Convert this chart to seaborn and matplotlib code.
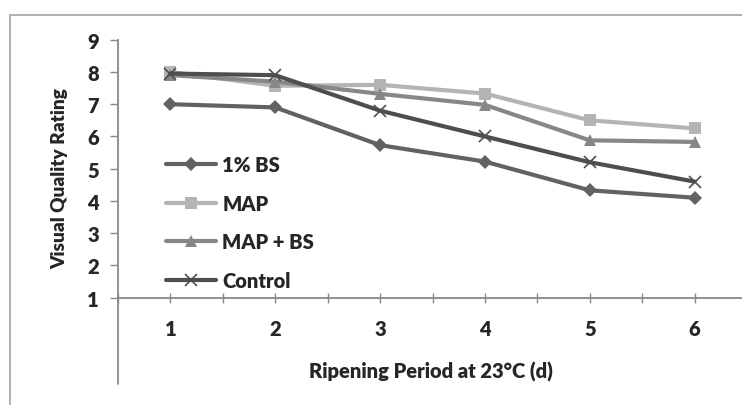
import matplotlib
matplotlib.use("Agg")
import matplotlib.pyplot as plt
import seaborn as sns
import pandas as pd
from matplotlib.lines import Line2D

days = [1, 2, 3, 4, 5, 6]
bs1 = [7.0, 6.9, 5.73, 5.22, 4.33, 4.1]
map_ = [8.0, 7.57, 7.6, 7.33, 6.5, 6.25]
map_bs = [7.9, 7.7, 7.32, 6.98, 5.88, 5.83]
control = [7.95, 7.9, 6.8, 6.0, 5.2, 4.6]
series_names = ["1% BS", "MAP", "MAP + BS", "Control"]
y_ticks = [1, 2, 3, 4, 5, 6, 7, 8, 9]

colors = {"1% BS": "#626262", "MAP": "#b4b4b4", "MAP + BS": "#878787", "Control": "#4e4e4e"}
markers = {"1% BS": "D", "MAP": "s", "MAP + BS": "^", "Control": "x"}
msizes = {"1% BS": 7.5, "MAP": 8, "MAP + BS": 9, "Control": 9}

df = pd.DataFrame({
    "day": days * 4,
    "rating": bs1 + map_ + map_bs + control,
    "series": sum([[n] * len(days) for n in series_names], []),
})

sns.set_style("white")
plt.rcParams["font.family"] = ["Lato", "DejaVu Sans"]
FW = "heavy"
FS = 14.5

fig = plt.figure(figsize=(7.42, 4.06), dpi=100)
ax = fig.add_axes([118 / 742, 1 - 298.7 / 406, 629 / 742, 258 / 406])

for name in series_names:
    sub = df[df["series"] == name]
    sns.lineplot(data=sub, x="day", y="rating", ax=ax, color=colors[name],
                 marker=markers[name], markersize=msizes[name], linewidth=3,
                 markeredgewidth=1.2 if name == "Control" else 0,
                 markeredgecolor=colors[name], legend=False)

ax.set_xlim(0.5, 6.5)
ax.set_ylim(1, 9)
ax.set_yticks(y_ticks)
ax.set_xticks(days)
ax.set_xticks([d + 0.5 for d in [0] + days[:-1]], minor=True)
ax.set_xlabel("")
ax.set_ylabel("")
for s in ["top", "right"]:
    ax.spines[s].set_visible(False)
for s in ["left", "bottom"]:
    ax.spines[s].set_color("#888888")
    ax.spines[s].set_linewidth(1.3)
ax.tick_params(axis="y", direction="out", length=5.8, width=1, color="#888888",
               pad=8, labelsize=FS, left=True)
ax.tick_params(axis="x", which="both", direction="inout", length=7, width=1,
               color="#888888", bottom=True)
ax.tick_params(axis="x", which="major", pad=12, labelsize=FS)
for lab in ax.get_xticklabels() + ax.get_yticklabels():
    lab.set_fontweight(FW)

# y-axis line continuing below the x axis
ax.plot([0, 0], [0, -0.334], transform=ax.transAxes, color="#888888",
        linewidth=1.3, clip_on=False)

# outer chart border (top and left)
fig.add_artist(Line2D([10 / 742, 1.0], [1 - 15.7 / 406] * 2, color="#b0b0b0", linewidth=1.4))
fig.add_artist(Line2D([9.5 / 742] * 2, [0, 1 - 15.7 / 406], color="#b0b0b0", linewidth=1.4))

fig.text(431 / 742, 1 - 372 / 406, "Ripening Period at 23°C (d)", ha="center", va="center",
         fontsize=FS, fontweight=FW)
fig.text(60 / 742, 1 - 179 / 406, "Visual Quality Rating", ha="center", va="center",
         rotation=90, fontsize=13.7, fontweight=FW)

handles = [Line2D([], [], color=colors[n], marker=markers[n], markersize=msizes[n],
                  linewidth=3, markeredgewidth=1.2 if n == "Control" else 0,
                  markeredgecolor=colors[n]) for n in series_names]
leg = ax.legend(handles, series_names, loc="upper left",
                bbox_to_anchor=(166 / 742, 1 - 156 / 406), bbox_transform=fig.transFigure,
                frameon=False, borderpad=0, borderaxespad=0, handlelength=2.5,
                handletextpad=0.3, labelspacing=0.98,
                prop={"weight": FW, "size": FS})

fig.savefig("out.png", dpi=100)
